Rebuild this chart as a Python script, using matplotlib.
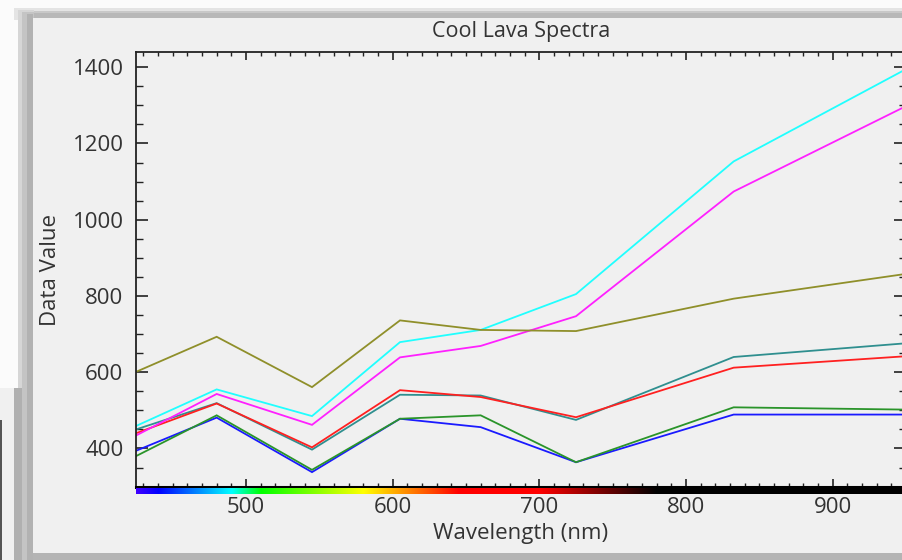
import numpy as np
import matplotlib
matplotlib.use("Agg")
import matplotlib.pyplot as plt
from matplotlib.patches import Rectangle
from matplotlib.ticker import MultipleLocator

# ---------------- data ----------------
wavelengths = [425, 480, 545, 605, 660, 725, 832.5, 950]
olive   = [601, 693, 561, 736, 711, 708, 793, 858]
cyan    = [459, 555, 485, 679, 711, 805, 1153, 1395]
magenta = [434, 543, 462, 639, 669, 747, 1074, 1298]
red     = [440, 518, 403, 553, 535, 482, 612, 642]
teal    = [450, 519, 397, 541, 539, 475, 640, 676]
green   = [380, 487, 344, 478, 487, 364, 508, 502]
blue    = [394, 481, 338, 478, 456, 364, 489, 489]

series = [
    ("blue", blue, "#1a1aff"),
    ("green", green, "#2a942a"),
    ("teal", teal, "#2f8f8f"),
    ("red", red, "#ff2020"),
    ("magenta", magenta, "#ff20ff"),
    ("cyan", cyan, "#20ffff"),
    ("olive", olive, "#8f8f2a"),
]

title = "Cool Lava Spectra"
xlabel = "Wavelength (nm)"
ylabel = "Data Value"
xlim = (425, 950)
ylim = (299, 1440)

W, H = 902, 560
TXT = "#333333"
plt.rcParams['font.family'] = ['Open Sans', 'DejaVu Sans']

fig = plt.figure(figsize=(W / 100, H / 100), dpi=100)
fig.patch.set_facecolor("#fbfbfb")

def px_rect(x0, y0, x1, y1, color):
    # rectangle in pixel coords, y measured from the top
    r = Rectangle((x0 / W, 1 - y1 / H), (x1 - x0) / W, (y1 - y0) / H,
                  transform=fig.transFigure, facecolor=color, edgecolor="none")
    r.set_zorder(-10)
    fig.patches.append(r)

# window frame decoration
px_rect(14, 8, 902, 20, "#e4e4e4")
px_rect(20, 11, 902, 19, "#c8c8c8")
px_rect(24, 13, 902, 18, "#b8b8b8")
px_rect(18, 10, 34, 560, "#d6d6d6")
px_rect(22, 12, 34, 560, "#c4c4c4")
px_rect(27, 14, 33, 560, "#b2b2b2")
px_rect(0, 388, 14, 560, "#f0f0f0")
px_rect(0, 420, 1.5, 560, "#555555")
px_rect(14, 388, 22, 560, "#b0b0b0")
px_rect(33, 18, 902, 553, "#f0f0f0")
px_rect(33, 553, 902, 560, "#b4b4b4")

# main axes
left, right, top, bottom = 136, 906, 52, 487
ax = fig.add_axes([left / W, 1 - bottom / H, (right - left) / W, (bottom - top) / H])
ax.set_zorder(5)
ax.set_facecolor("none")
for name, vals, col in series:
    ax.plot(wavelengths, vals, color=col, lw=1.3, solid_joinstyle="miter")
ax.set_xlim(*xlim)
ax.set_ylim(*ylim)

ax.xaxis.set_major_locator(MultipleLocator(100))
ax.xaxis.set_minor_locator(MultipleLocator(10))
ax.yaxis.set_major_locator(MultipleLocator(200))
ax.yaxis.set_minor_locator(MultipleLocator(50))
ax.tick_params(axis="x", which="both", direction="in", top=True, bottom=True,
               colors="#222222", labelcolor=TXT, labelsize=16, pad=7.5)
ax.tick_params(axis="x", which="major", length=5.5, width=1.2)
ax.tick_params(axis="x", which="minor", length=2.8, width=1.0)
ax.tick_params(axis="y", which="both", direction="in", left=True, right=True,
               colors="#222222", labelcolor=TXT, labelsize=16, pad=9)
ax.tick_params(axis="y", which="major", length=8.5, width=1.2)
ax.tick_params(axis="y", which="minor", length=5, width=1.0)
for s in ["left", "top", "right"]:
    ax.spines[s].set_linewidth(1.3)
    ax.spines[s].set_color("#222222")
ax.spines["bottom"].set_linewidth(2.2)
ax.spines["bottom"].set_color("#000000")

ax.set_xlabel(xlabel, color=TXT, fontsize=16, labelpad=3)
ax.set_ylabel(ylabel, color=TXT, fontsize=16, labelpad=8)
fig.text((left + right) / 2 / W, 1 - 31 / H, title, color=TXT, fontsize=15.5,
         ha="center", va="center", zorder=6)

# wavelength colour strip under the axis
def wl_rgb(w):
    if w < 440:
        r, g, b = -(w - 440) / 60, 0.0, 1.0
    elif w < 490:
        r, g, b = 0.0, (w - 440) / 50, 1.0
    elif w < 510:
        r, g, b = 0.0, 1.0, -(w - 510) / 20
    elif w < 580:
        r, g, b = (w - 510) / 70, 1.0, 0.0
    elif w < 645:
        r, g, b = 1.0, -(w - 645) / 65, 0.0
    else:
        r, g, b = 1.0, 0.0, 0.0
    if w > 700:
        f = max(0.0, (780 - w) / 80)
    else:
        f = 1.0
    return (r * f, g * f, b * f)

strip_w = np.linspace(xlim[0], xlim[1], 600)
strip = np.array([[wl_rgb(w) for w in strip_w]])
cax = fig.add_axes([left / W, 1 - 494 / H, (right - left) / W, 6 / H])
cax.set_zorder(6)
cax.imshow(strip, aspect="auto", extent=(xlim[0], xlim[1], 0, 1), interpolation="bilinear")
cax.set_xlim(*xlim)
cax.axis("off")

fig.savefig("out.png", dpi=100, facecolor=fig.get_facecolor())
